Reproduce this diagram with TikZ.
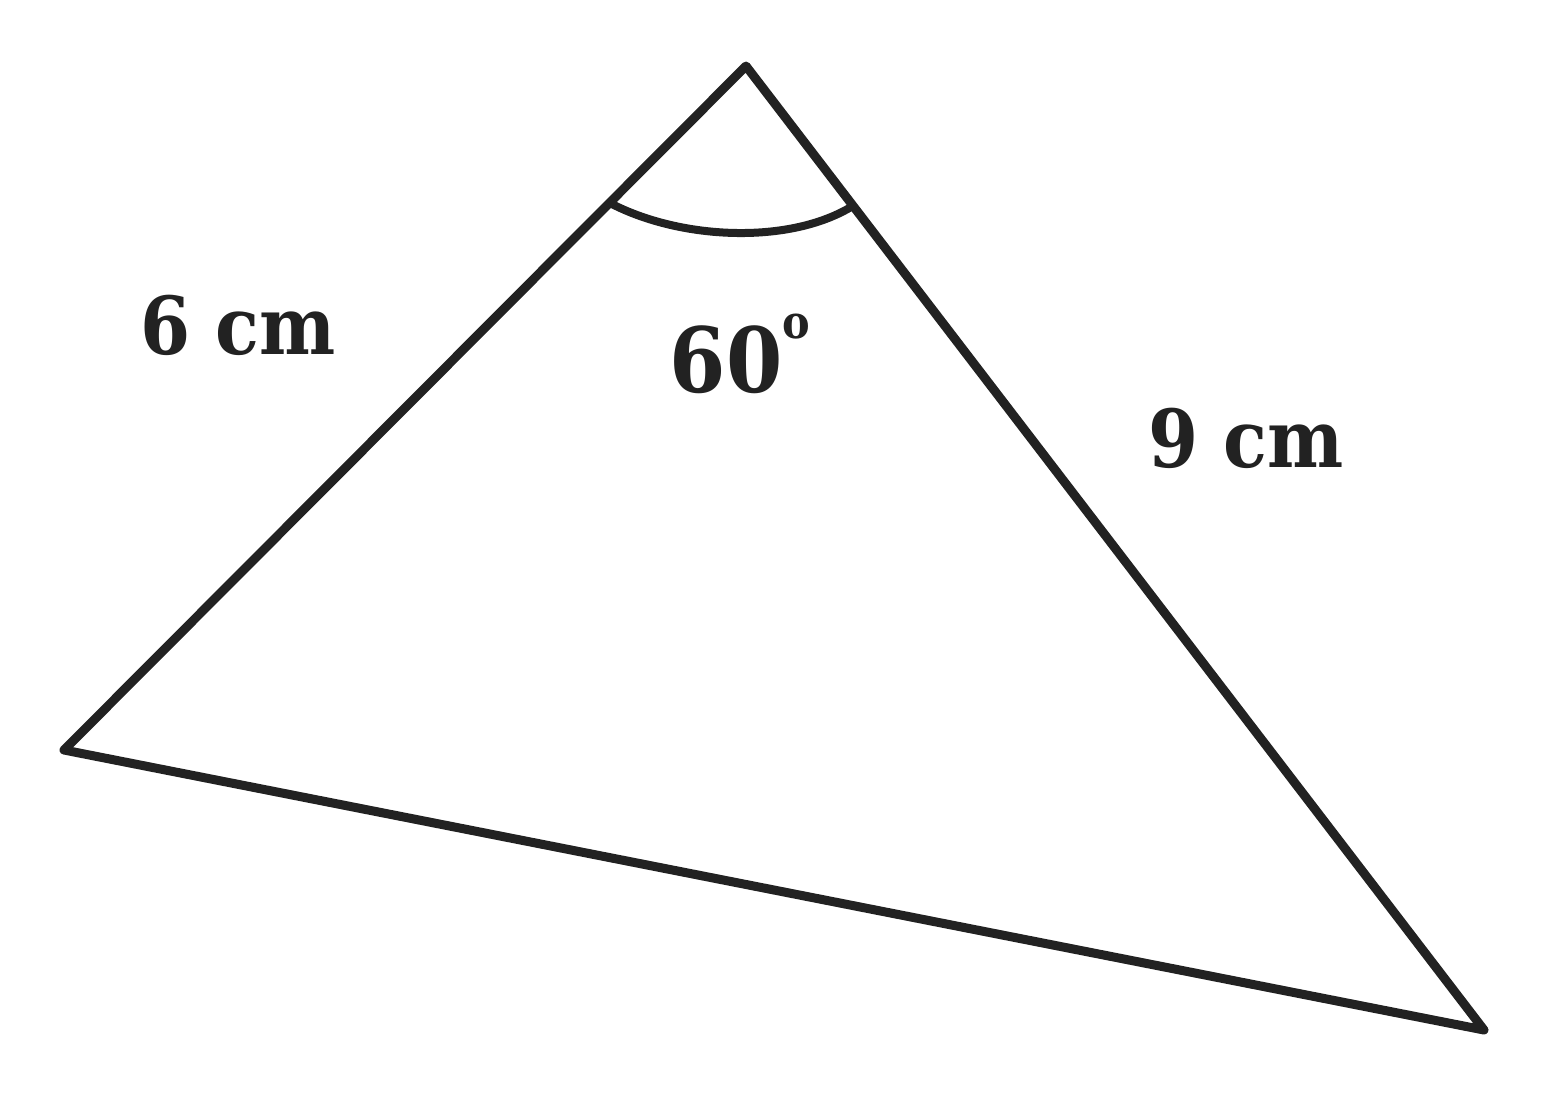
\documentclass[tikz,border=0pt]{standalone}
\usepackage{fontspec}
\setmainfont{DejaVu Serif Condensed}
\usetikzlibrary{positioning,calc}
\definecolor{ink}{HTML}{222222}
\begin{document}
\begin{tikzpicture}[x=1pt,y=-1pt]
          \useasboundingbox (0,0) rectangle (1547,1093);
          \begin{scope}[ink,line width=9pt,line join=round,line cap=round]
            \coordinate (a) at (746,66);
            \coordinate (b) at (64,750);
            \coordinate (c) at (1484,1030);

            \draw (a) -- (b) -- (c) -- cycle;

            \coordinate (p1) at ($(a)!0.2!(b)$);
            \coordinate (p2) at ($(a)!0.145!(c)$);
            \draw[line width=8pt] (p1) .. controls (680,240) and (790,245) .. (p2);

            \node (l6) at (238,325) [font=\bfseries\fontsize{80}{90}\selectfont]{6 cm};
            \node (ang) at (740,354) [font=\bfseries\fontsize{90}{100}\selectfont]{60\raisebox{0.6em}{\fontsize{46}{46}\selectfont o}};
            \node (l9) at (1246,438) [font=\bfseries\fontsize{80}{90}\selectfont]{9 cm};
          \end{scope}
\end{tikzpicture}
\end{document}
